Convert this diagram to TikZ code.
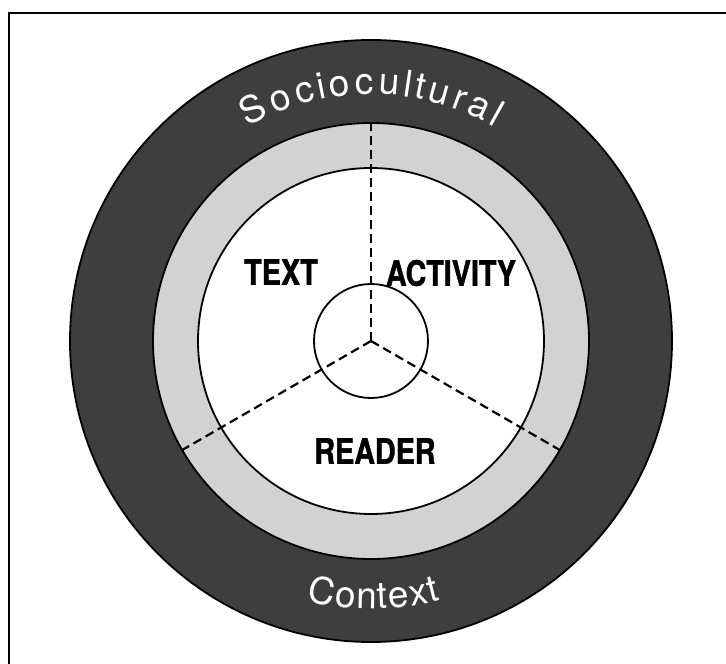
\documentclass[tikz,border=0pt]{standalone}
\usepackage{fontspec}
\setsansfont{TeX Gyre Heros}
\newfontfamily\labelfont[FakeStretch=0.82, BoldFeatures={FakeBold=1.2}]{TeX Gyre Heros}
\usetikzlibrary{decorations.text}
\definecolor{ringdark}{RGB}{62,62,62}
\definecolor{ringlight}{RGB}{210,210,210}
\tikzset{
  ringline/.style={draw=black, line width=1.8pt},
  divider/.style={draw=black, line width=2.2pt, dash pattern=on 9pt off 5pt},
  partlabel/.style={font=\labelfont\bfseries\fontsize{35}{35}\selectfont, text=black, inner sep=0pt},
  framebox/.style={draw=black, line width=1.8pt},
  ringcaption/.style={decorate, decoration={text effects along path,
      text={#1}, text effects/.cd, text along path, fit text to path,
      characters={text=white, font=\sffamily\fontsize{37}{37}\selectfont}}},
}
\begin{document}
\begin{tikzpicture}[x=1pt, y=1pt]
  % page area, centre of the rings at the origin
  \useasboundingbox (-371,341) rectangle (355,-323);
  \fill[white] (-371,341) rectangle (355,-323);
  % surrounding frame: only its left and top sides fall on the page
  \coordinate (frameLB) at (-362,-330);
  \coordinate (frameLT) at (-362,328);
  \coordinate (frameRT) at (360,328);
  \draw[framebox] (frameLB) -- (frameLT) -- (frameRT);

  \coordinate (c) at (0,0);
  % rings, from the outside in
  \fill[ringdark, ringline] (c) circle[radius=301];
  \fill[ringlight, ringline] (c) circle[radius=218];
  \fill[white, ringline] (c) circle[radius=173];

  % curved ring captions
  \path[ringcaption=Sociocultural]
    (120:247) arc[start angle=120, end angle=60, radius=247];
  \path[ringcaption=Context]
    (256:268) arc[start angle=256, end angle=285, radius=268];

  % three dashed dividers running out to the edge of the light ring
  \coordinate (top) at (90:218);
  \coordinate (lowleft) at (210:218);
  \coordinate (lowright) at (330:218);
  \draw[divider] (c) -- (top);
  \draw[divider] (c) -- (lowleft);
  \draw[divider] (c) -- (lowright);

  % small central circle
  \draw[ringline] (c) circle[radius=57];

  % the three parts
  \node[partlabel] (text) at (-90,69) {TEXT};
  \node[partlabel] (activity) at (80,68) {ACTIVITY};
  \node[partlabel] (reader) at (4,-110) {READER};
\end{tikzpicture}
\end{document}
